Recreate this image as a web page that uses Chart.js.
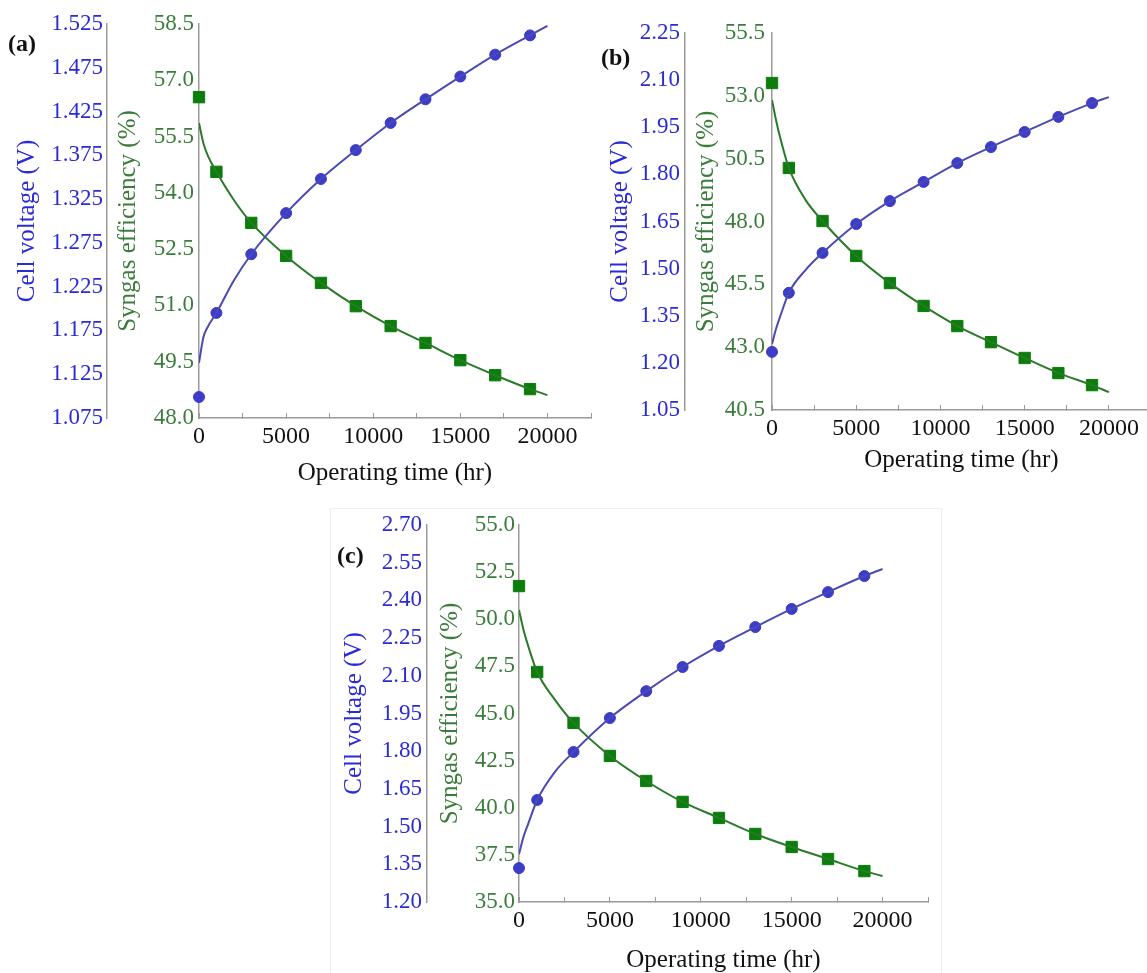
<!DOCTYPE html>
<html>
<head>
<meta charset="utf-8">
<script src="https://cdn.jsdelivr.net/npm/chart.js@4.4.1/dist/chart.umd.min.js"></script>
<style>
  html, body { margin: 0; padding: 0; background: #fff; width: 1147px; height: 973px; overflow: hidden; }
  canvas { position: absolute; }
  .tag { position: absolute; font: bold 24px 'Liberation Serif', serif; line-height: 28px; color: #111; }
  .frame { position: absolute; border: 1px solid #ededed; }
</style>
</head>
<body>
<div class="frame" style="left:330px;top:508px;width:610px;height:470px"></div>
<canvas id="chartA" width="600" height="495" style="left:0;top:0"></canvas>
<canvas id="chartB" width="570" height="480" style="left:590px;top:0"></canvas>
<canvas id="chartC" width="610" height="480" style="left:330px;top:505px"></canvas>
<div class="tag" style="left:8px;top:29px">(a)</div>
<div class="tag" style="left:601px;top:43px">(b)</div>
<div class="tag" style="left:337px;top:541px">(c)</div>
<script>
// measured points (hr)
const markerTimes = [0, 1000, 3000, 5000, 7000, 9000, 11000, 13000, 15000, 17000, 19000];
// points
const fitTimes = [0, 250, 500, 1000, 2000, 3000, 5000, 7000, 9000, 11000, 13000, 15000, 17000, 19000, 20000];

// panel (a)
const aVoltage = [1.099, 1.195, 1.262, 1.309, 1.348, 1.381, 1.412, 1.439, 1.465, 1.490, 1.512];
const aEfficiency = [56.55, 54.56, 53.20, 52.32, 51.60, 50.98, 50.45, 50.00, 49.54, 49.14, 48.77];
const aVoltageFit = [1.138, 1.167, 1.179, 1.195, 1.232, 1.262, 1.309, 1.348, 1.381, 1.412, 1.439, 1.465, 1.490, 1.512, 1.523];
const aEfficiencyFit = [55.86, 55.33, 55.0, 54.56, 53.81, 53.20, 52.32, 51.60, 50.98, 50.45, 50.00, 49.54, 49.14, 48.77, 48.61];

// panel (b)
const bVoltage = [1.235, 1.423, 1.550, 1.642, 1.715, 1.776, 1.836, 1.887, 1.935, 1.983, 2.027];
const bEfficiency = [53.51, 50.13, 48.02, 46.63, 45.55, 44.64, 43.84, 43.20, 42.57, 41.97, 41.49];
const bVoltageFit = [1.26, 1.31, 1.35, 1.423, 1.496, 1.550, 1.642, 1.715, 1.776, 1.836, 1.887, 1.935, 1.983, 2.027, 2.046];
const bEfficiencyFit = [52.83, 52.0, 51.3, 50.13, 48.85, 48.02, 46.63, 45.55, 44.64, 43.84, 43.20, 42.57, 41.97, 41.49, 41.21];

// panel (c)
const cVoltage = [1.335, 1.606, 1.797, 1.932, 2.039, 2.135, 2.219, 2.294, 2.366, 2.433, 2.497];
const cEfficiency = [51.76, 47.20, 44.50, 42.75, 41.42, 40.31, 39.46, 38.61, 37.92, 37.28, 36.64];
const cVoltageFit = [1.39, 1.46, 1.51, 1.606, 1.72, 1.797, 1.932, 2.039, 2.135, 2.219, 2.294, 2.366, 2.433, 2.497, 2.525];
const cEfficiencyFit = [50.49, 49.43, 48.6, 47.20, 45.7, 44.50, 42.75, 41.42, 40.31, 39.46, 38.61, 37.92, 37.28, 36.64, 36.38];

const BLUE = '#3c3cc8';
const BLUE_LINE = '#4a4ab4';
const BLUE_TEXT = '#2b2bd6';
const GREEN = '#0b7d0b';
const GREEN_LINE = '#2a7a2a';
const GREEN_TEXT = '#3a7d3a';
const AXIS = '#9a9a9a';

Chart.defaults.font.family = "'Liberation Serif', 'Times New Roman', serif";

function pairs(xs, ys) {
  return xs.map((x, i) => ({ x: x, y: ys[i] }));
}

function renderPanel(id, p) {
  const ctx = document.getElementById(id).getContext('2d');
  new Chart(ctx, {
    type: 'line',
    data: {
      datasets: [
        { data: pairs(fitTimes, p.vFit), yAxisID: 'yV', borderColor: BLUE_LINE, borderWidth: 2,
          pointRadius: 0, cubicInterpolationMode: 'monotone', fill: false },
        { data: pairs(markerTimes, p.v), yAxisID: 'yV', showLine: false, pointStyle: 'circle', clip: false,
          pointRadius: 5.5, backgroundColor: BLUE, borderColor: BLUE, borderWidth: 1 },
        { data: pairs(fitTimes, p.eFit), yAxisID: 'yE', borderColor: GREEN_LINE, borderWidth: 2,
          pointRadius: 0, cubicInterpolationMode: 'monotone', fill: false },
        { data: pairs(markerTimes, p.e), yAxisID: 'yE', showLine: false, pointStyle: 'rect', clip: false,
          pointRadius: 8, backgroundColor: GREEN, borderColor: GREEN, borderWidth: 1 }
      ]
    },
    options: {
      responsive: false,
      animation: false,
      layout: { padding: { left: 0, right: p.padRight, top: p.padTop, bottom: 0 } },
      plugins: { legend: { display: false }, tooltip: { enabled: false } },
      scales: {
        x: {
          type: 'linear', min: 0, max: 22500,
          ticks: { stepSize: 2500, autoSkip: false, maxRotation: 0, padding: 9, color: '#111',
                   font: { size: 24 }, callback: v => (v % 5000 === 0 ? String(v) : '') },
          grid: { display: true, drawOnChartArea: false, drawTicks: true, tickLength: -5, color: AXIS },
          border: { display: true, color: AXIS, width: 1.5 },
          title: { display: true, text: 'Operating time (hr)', color: '#111', font: { size: 25 },
                   padding: { top: 0, bottom: p.xTitlePad } },
          afterFit: s => { s.height = p.xHeight; }
        },
        yV: {
          type: 'linear', position: 'left', weight: 1,
          min: p.vMin, max: p.vMax,
          ticks: { stepSize: p.vStep, autoSkip: false, color: BLUE_TEXT, font: { size: 23 },
                   padding: p.vTickPad, callback: v => v.toFixed(p.vDigits) },
          grid: { display: false, drawTicks: false },
          border: { display: true, color: AXIS, width: 1.5 },
          title: { display: true, text: 'Cell voltage (V)', color: BLUE_TEXT, font: { size: 25 },
                   padding: { top: p.vTitlePad, bottom: 0 } },
          afterFit: s => { s.width = p.vWidth; }
        },
        yE: {
          type: 'linear', position: 'left', weight: 0,
          min: p.eMin, max: p.eMax,
          ticks: { stepSize: p.eStep, autoSkip: false, color: GREEN_TEXT, font: { size: 23 },
                   padding: p.eTickPad, callback: v => v.toFixed(1) },
          grid: { display: false, drawTicks: false },
          border: { display: true, color: AXIS, width: 1.5 },
          title: { display: true, text: 'Syngas efficiency (%)', color: GREEN_TEXT, font: { size: 25 },
                   padding: { top: p.eTitlePad, bottom: 0 } },
          afterFit: s => { s.width = p.eWidth; }
        }
      }
    }
  });
}

renderPanel('chartA', {
  v: aVoltage, e: aEfficiency, vFit: aVoltageFit, eFit: aEfficiencyFit,
  vMin: 1.075, vMax: 1.525, vStep: 0.05, vDigits: 3,
  eMin: 48, eMax: 58.5, eStep: 1.5,
  padTop: 24, padRight: 5, vWidth: 107, eWidth: 92,
  vTitlePad: 12, vTickPad: 4, eTitlePad: 6, eTickPad: 5,
  xHeight: 77, xTitlePad: 7
});

renderPanel('chartB', {
  v: bVoltage, e: bEfficiency, vFit: bVoltageFit, eFit: bEfficiencyFit,
  vMin: 1.05, vMax: 2.25, vStep: 0.15, vDigits: 2,
  eMin: 40.5, eMax: 55.5, eStep: 2.5,
  padTop: 33, padRight: 7, vWidth: 95, eWidth: 87,
  vTitlePad: 15, vTickPad: 5, eTitlePad: 6, eTickPad: 7,
  xHeight: 70, xTitlePad: 5
});

renderPanel('chartC', {
  v: cVoltage, e: cEfficiency, vFit: cVoltageFit, eFit: cEfficiencyFit,
  vMin: 1.2, vMax: 2.7, vStep: 0.15, vDigits: 2,
  eMin: 35, eMax: 55, eStep: 2.5,
  padTop: 20, padRight: 12, vWidth: 97, eWidth: 92,
  vTitlePad: 9, vTickPad: 5, eTitlePad: 8, eTickPad: 4,
  xHeight: 83, xTitlePad: 10
});
</script>
</body>
</html>
